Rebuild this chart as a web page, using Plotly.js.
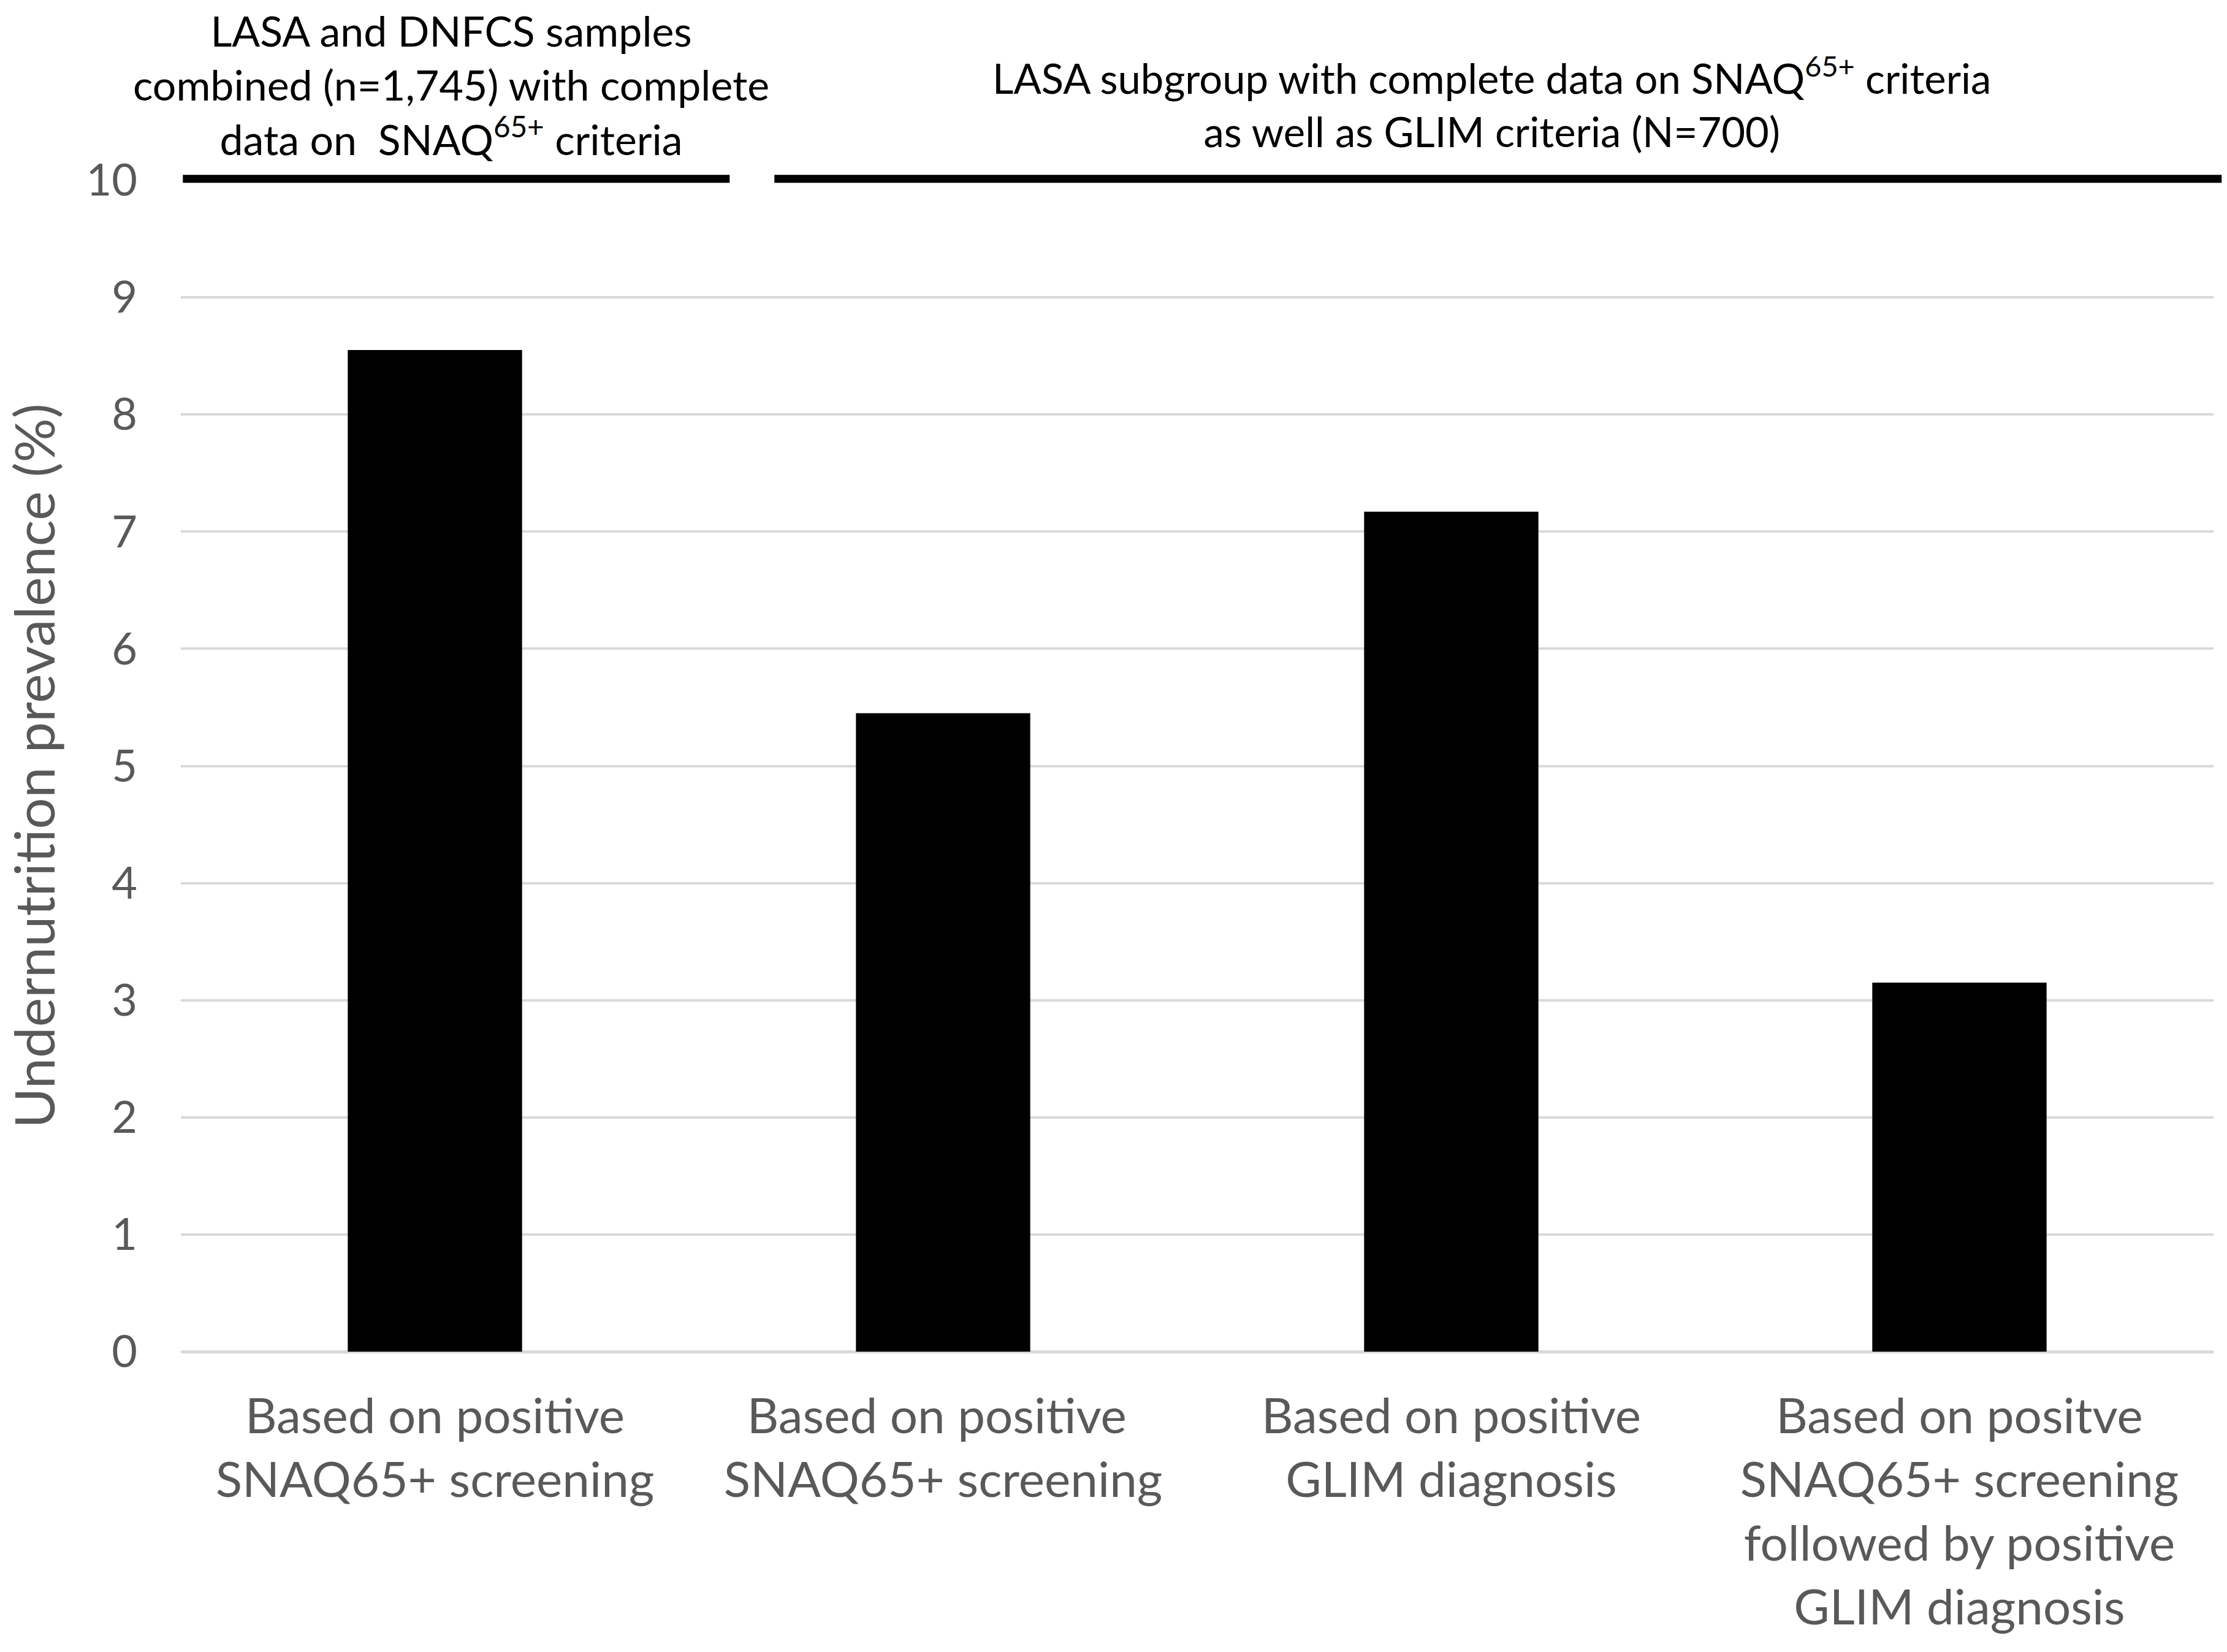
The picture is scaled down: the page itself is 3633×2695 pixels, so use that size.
<!DOCTYPE html>
<html>
<head>
<meta charset="utf-8">
<script src="https://cdn.plot.ly/plotly-3.0.1.min.js"></script>
<style>
  html, body { margin: 0; padding: 0; background: #fff; }
  #plot { width: 3633px; height: 2695px; }
</style>
</head>
<body>
<div id="plot"></div>
<script>
// categories along the x axis
var categories = [
  'Based on positive<br>SNAQ65+ screening',
  'Based on positive <br>SNAQ65+ screening',
  'Based on positive<br>GLIM diagnosis',
  'Based on positve<br>SNAQ65+ screening<br>followed by positive<br>GLIM diagnosis'
];
// undernutrition prevalence (%)
var prevalence = [8.55, 5.45, 7.17, 3.15];
var yTicks = [0, 1, 2, 3, 4, 5, 6, 7, 8, 9, 10];

var groupLeft = 'LASA and DNFCS samples<br>combined (n=1,745) with complete<br>data on  SNAQ<sup>65+</sup> criteria';
var groupRight = 'LASA subgroup with complete data on SNAQ<sup>65+</sup> criteria<br>as well as GLIM criteria (N=700)';

function drawDia(){
  var PLOT = document.getElementById('plot');
  var trace1 = {
    x: categories,
    y: prevalence,
    type: 'bar',
    marker: {color: '#000000', line: {width: 0}},
    hoverinfo: 'x+y'
  };

  var layout = {
    width: 3633,
    height: 2695,
    margin: {l: 295, r: 22, t: 294, b: 490},
    paper_bgcolor: '#ffffff',
    plot_bgcolor: '#ffffff',
    font: {family: 'Lato, "Open Sans", sans-serif', color: '#595959'},
    showlegend: false,
    bargap: 0.657,
    xaxis: {
      type: 'category',
      showgrid: false,
      showline: false,
      ticks: '',
      ticklabelstandoff: 52,
      tickfont: {size: 80, color: '#595959'},
      automargin: false
    },
    yaxis: {
      range: [0, 10],
      tickvals: yTicks,
      ticks: '',
      showline: false,
      gridcolor: '#d9d9d9',
      gridwidth: 4,
      zeroline: true,
      zerolinecolor: '#d9d9d9',
      zerolinewidth: 5,
      ticklabelstandoff: 70,
      tickfont: {size: 72, color: '#595959'},
      automargin: false,
      title: {
        text: 'Undernutrition prevalence (%)',
        font: {size: 90, color: '#595959'},
        standoff: 40
      }
    },
    // group brackets along the top of the plot (paper refs so they are not clipped)
    shapes: [
      {type: 'line', xref: 'paper', yref: 'paper', x0: 0.001, x1: 0.270, y0: 1.0012, y1: 1.0012,
       line: {color: '#000000', width: 13}},
      {type: 'line', xref: 'paper', yref: 'paper', x0: 0.292, x1: 1.004, y0: 1.0012, y1: 1.0012,
       line: {color: '#000000', width: 13}}
    ],
    annotations: [
      {text: groupLeft, xref: 'paper', yref: 'paper', x: 0.133, y: 1.0816,
       xanchor: 'center', yanchor: 'middle', showarrow: false, align: 'center',
       font: {size: 68, color: '#000000'}},
      {text: groupRight, xref: 'paper', yref: 'paper', x: 0.645, y: 1.0665,
       xanchor: 'center', yanchor: 'middle', showarrow: false, align: 'center',
       font: {size: 67, color: '#000000'}}
    ]
  };

  Plotly.newPlot(PLOT, [trace1], layout, {displaylogo: false, staticPlot: true});
}
drawDia();
</script>
</body>
</html>
